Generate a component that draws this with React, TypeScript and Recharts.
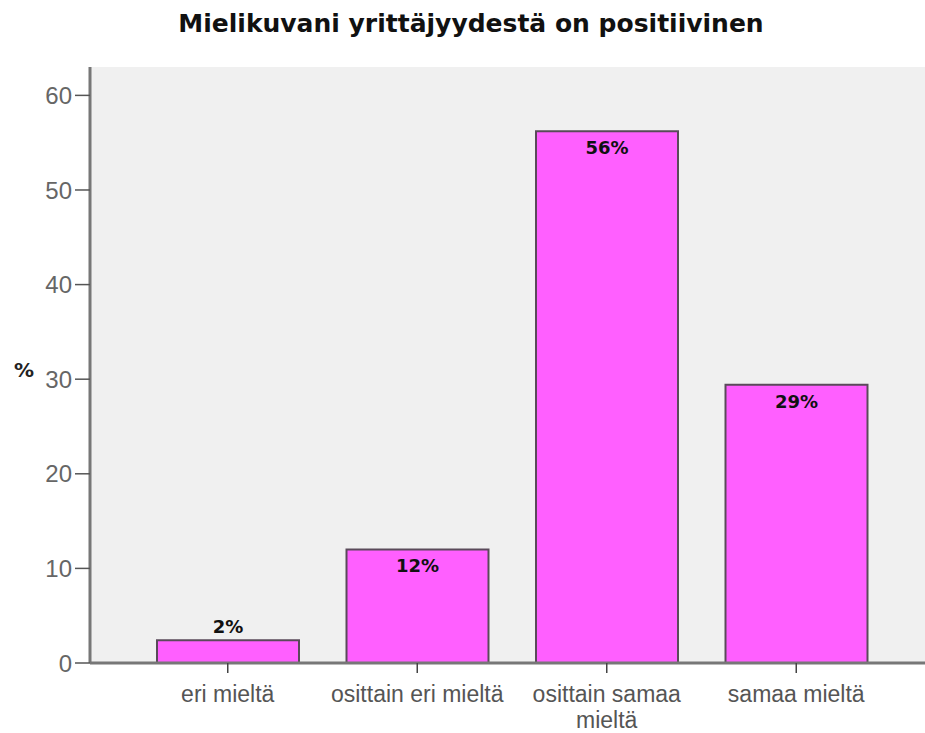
import { BarChart, Bar, XAxis, YAxis, CartesianGrid, LabelList } from "recharts";

const categories = ["eri mieltä", "osittain eri mieltä", "osittain samaa mieltä", "samaa mieltä"];
const percents = [2.4, 12.0, 56.2, 29.4];
const barLabels = ["2%", "12%", "56%", "29%"];
const yTicks = [0, 10, 20, 30, 40, 50, 60];

const data = categories.map((name, i) => ({ name, value: percents[i], label: barLabels[i] }));

const FONT = "'Liberation Sans', Arial, sans-serif";
const BOLD_FONT = "'DejaVu Sans', Verdana, sans-serif";

let ctx: CanvasRenderingContext2D | null = null;
function measure(s: string) {
  if (!ctx) ctx = document.createElement("canvas").getContext("2d");
  if (!ctx) return s.length * 11;
  ctx.font = "23px 'Liberation Sans', Arial, sans-serif";
  return ctx.measureText(s).width;
}

function wrap(s: string, maxWidth: number) {
  const lines: string[] = [];
  let cur = "";
  for (const w of s.split(" ")) {
    const next = cur ? cur + " " + w : w;
    if (cur && measure(next) > maxWidth) {
      lines.push(cur);
      cur = w;
    } else {
      cur = next;
    }
  }
  if (cur) lines.push(cur);
  return lines;
}

function CategoryTick(props: any) {
  const { x, y, payload } = props;
  const lines = wrap(String(payload.value), 185);
  return (
    <text x={x} y={y + 27} textAnchor="middle" fill="#555" fontSize={23} fontFamily={FONT}>
      {lines.map((l, i) => (
        <tspan key={i} x={x} dy={i === 0 ? 0 : 26}>
          {l}
        </tspan>
      ))}
    </text>
  );
}

function BarLabel(props: any) {
  const { x, y, width, height, value } = props;
  const inside = height > 30;
  return (
    <text
      x={x + width / 2}
      y={inside ? y + 23 : y - 7}
      textAnchor="middle"
      fontSize={18}
      fontWeight="bold"
      fontFamily={BOLD_FONT}
      fill="#111"
    >
      {value}
    </text>
  );
}

export default function App() {
  return (
    <div style={{ position: "absolute", left: 0, top: 0, background: "#fff" }}>
      <BarChart
        width={925}
        height={733}
        data={data}
        margin={{ top: 67, right: 0, left: 30, bottom: 0 }}
      >
        <text
          x={471}
          y={32}
          textAnchor="middle"
          fontSize={25}
          fontWeight="bold"
          fontFamily={BOLD_FONT}
          fill="#111"
        >
          Mielikuvani yrittäjyydestä on positiivinen
        </text>
        <text
          x={24}
          y={377}
          textAnchor="middle"
          fontSize={20}
          fontWeight="bold"
          fontFamily={BOLD_FONT}
          fill="#222"
        >
          %
        </text>
        <CartesianGrid fill="#f0f0f0" horizontal={false} vertical={false} />
        <XAxis
          dataKey="name"
          padding={{ left: 43, right: 34 }}
          axisLine={{ stroke: "#777", strokeWidth: 3 }}
          tickLine={{ stroke: "#444", strokeWidth: 1.5 }}
          tickSize={10}
          tick={<CategoryTick />}
          interval={0}
          height={70}
        />
        <XAxis
          xAxisId="top"
          orientation="top"
          dataKey="name"
          axisLine={{ stroke: "#777", strokeWidth: 3 }}
          tick={false}
          tickLine={false}
          height={0}
        />
        <YAxis
          domain={[0, 63]}
          ticks={yTicks}
          width={60}
          axisLine={{ stroke: "#777", strokeWidth: 3 }}
          tickLine={{ stroke: "#555", strokeWidth: 1.5 }}
          tickSize={15}
          tickMargin={3}
          tick={{ fill: "#666", fontSize: 24, fontFamily: FONT }}
          allowDataOverflow
        />
        <Bar
          dataKey="value"
          xAxisId={0}
          barSize={142}
          fill="#ff5fff"
          stroke="#5a4a5a"
          strokeWidth={2}
          isAnimationActive={false}
        >
          <LabelList dataKey="label" content={<BarLabel />} />
        </Bar>
      </BarChart>
    </div>
  );
}
